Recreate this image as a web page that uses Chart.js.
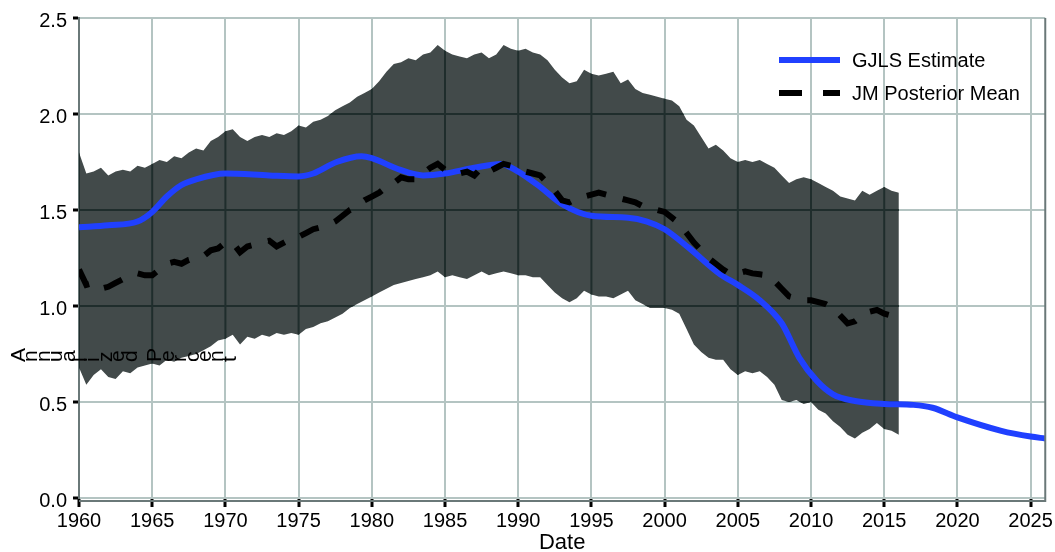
<!DOCTYPE html>
<html>
<head>
<meta charset="utf-8">
<script src="https://cdn.jsdelivr.net/npm/chart.js@4.4.1/dist/chart.umd.min.js"></script>
<style>
  html, body { margin: 0; padding: 0; background: #fff; }
  #chart { display: block; }
</style>
</head>
<body>
<canvas id="chart" width="1055" height="552"></canvas>
<script>
const yearTicks = [1960, 1965, 1970, 1975, 1980, 1985, 1990, 1995, 2000, 2005, 2010, 2015, 2020, 2025];
const valueTicks = [0, 0.5, 1, 1.5, 2, 2.5];

// half-year grid shared by the band and the JM mean
const bandYears = [
  1960, 1960.5, 1961, 1961.5, 1962, 1962.5, 1963, 1963.5, 1964, 1964.5,
  1965, 1965.5, 1966, 1966.5, 1967, 1967.5, 1968, 1968.5, 1969, 1969.5,
  1970, 1970.5, 1971, 1971.5, 1972, 1972.5, 1973, 1973.5, 1974, 1974.5,
  1975, 1975.5, 1976, 1976.5, 1977, 1977.5, 1978, 1978.5, 1979, 1979.5,
  1980, 1980.5, 1981, 1981.5, 1982, 1982.5, 1983, 1983.5, 1984, 1984.5,
  1985, 1985.5, 1986, 1986.5, 1987, 1987.5, 1988, 1988.5, 1989, 1989.5,
  1990, 1990.5, 1991, 1991.5, 1992, 1992.5, 1993, 1993.5, 1994, 1994.5,
  1995, 1995.5, 1996, 1996.5, 1997, 1997.5, 1998, 1998.5, 1999, 1999.5,
  2000, 2000.5, 2001, 2001.5, 2002, 2002.5, 2003, 2003.5, 2004, 2004.5,
  2005, 2005.5, 2006, 2006.5, 2007, 2007.5, 2008, 2008.5, 2009, 2009.5,
  2010, 2010.5, 2011, 2011.5, 2012, 2012.5, 2013, 2013.5, 2014, 2014.5,
  2015, 2015.5, 2016
];
const bandUpper = [
  1.80, 1.69, 1.70, 1.72, 1.68, 1.70, 1.71, 1.70, 1.73, 1.72,
  1.74, 1.76, 1.75, 1.78, 1.77, 1.80, 1.82, 1.81, 1.86, 1.88,
  1.91, 1.92, 1.88, 1.86, 1.88, 1.89, 1.88, 1.90, 1.89, 1.91,
  1.94, 1.93, 1.96, 1.97, 1.99, 2.02, 2.04, 2.06, 2.09, 2.11,
  2.13, 2.17, 2.22, 2.26, 2.27, 2.29, 2.28, 2.31, 2.32, 2.36,
  2.33, 2.31, 2.30, 2.29, 2.31, 2.32, 2.29, 2.31, 2.36, 2.34,
  2.33, 2.34, 2.32, 2.31, 2.28, 2.23, 2.19, 2.16, 2.17, 2.23,
  2.21, 2.20, 2.21, 2.22, 2.16, 2.18, 2.13, 2.11, 2.10, 2.09,
  2.08, 2.07, 2.04, 1.97, 1.94, 1.88, 1.82, 1.84, 1.81, 1.77,
  1.75, 1.76, 1.75, 1.76, 1.74, 1.72, 1.68, 1.64, 1.66, 1.67,
  1.66, 1.64, 1.62, 1.60, 1.57, 1.56, 1.55, 1.60, 1.58, 1.60,
  1.62, 1.60, 1.59
];
const bandLower = [
  0.68, 0.59, 0.64, 0.67, 0.63, 0.62, 0.66, 0.65, 0.68, 0.69,
  0.70, 0.69, 0.72, 0.71, 0.73, 0.74, 0.75, 0.77, 0.79, 0.82,
  0.83, 0.85, 0.80, 0.84, 0.83, 0.85, 0.84, 0.86, 0.85, 0.86,
  0.85, 0.88, 0.89, 0.91, 0.92, 0.94, 0.96, 0.99, 1.01, 1.03,
  1.05, 1.07, 1.09, 1.11, 1.12, 1.13, 1.14, 1.15, 1.16, 1.18,
  1.15, 1.16, 1.15, 1.14, 1.16, 1.18, 1.16, 1.17, 1.18, 1.17,
  1.16, 1.16, 1.15, 1.15, 1.11, 1.07, 1.04, 1.02, 1.04, 1.08,
  1.06, 1.05, 1.05, 1.04, 1.06, 1.08, 1.03, 1.01, 0.99, 0.99,
  0.99, 0.98, 0.96, 0.88, 0.80, 0.76, 0.73, 0.72, 0.72, 0.67,
  0.64, 0.66, 0.65, 0.66, 0.63, 0.59, 0.51, 0.50, 0.51, 0.49,
  0.50, 0.46, 0.44, 0.40, 0.37, 0.33, 0.31, 0.34, 0.36, 0.39,
  0.36, 0.35, 0.33
];
const jmMean = [
  1.19, 1.11, 1.12, 1.09, 1.10, 1.12, 1.14, 1.16, 1.17, 1.16,
  1.16, 1.19, 1.22, 1.23, 1.22, 1.24, 1.25, 1.26, 1.29, 1.30,
  1.33, 1.33, 1.28, 1.31, 1.32, 1.33, 1.34, 1.31, 1.33, 1.35,
  1.36, 1.38, 1.40, 1.41, 1.42, 1.44, 1.47, 1.50, 1.52, 1.55,
  1.57, 1.59, 1.62, 1.64, 1.67, 1.66, 1.66, 1.69, 1.72, 1.74,
  1.71, 1.70, 1.69, 1.70, 1.68, 1.72, 1.70, 1.72, 1.74, 1.73,
  1.71, 1.70, 1.69, 1.68, 1.64, 1.60, 1.55, 1.54, 1.56, 1.57,
  1.58, 1.59, 1.58, 1.57, 1.56, 1.55, 1.54, 1.52, 1.51, 1.50,
  1.49, 1.46, 1.43, 1.38, 1.33, 1.29, 1.25, 1.22, 1.19, 1.165,
  1.17, 1.18, 1.17, 1.165, 1.16, 1.13, 1.09, 1.05, 1.04, 1.03,
  1.03, 1.02, 1.01, 0.99, 0.95, 0.91, 0.92, 0.95, 0.97, 0.98,
  0.96, 0.95, 0.94
];

const gjlsYears = [
  1960, 1962, 1964, 1965, 1966, 1967, 1968, 1970, 1973, 1975,
  1976, 1977.6, 1979.3, 1980, 1981.9, 1983.5, 1985, 1987, 1988.8, 1990,
  1991.5, 1993, 1995, 1997.5, 1998.8, 2000, 2001.7, 2003.8, 2005, 2006.5,
  2008, 2009.2, 2010.4, 2011.5, 2013, 2015, 2017, 2018.3, 2020, 2023,
  2025, 2026
];
const gjlsValues = [
  1.41, 1.42, 1.44, 1.49, 1.57, 1.63, 1.66, 1.69, 1.68, 1.675,
  1.69, 1.75, 1.78, 1.77, 1.71, 1.68, 1.69, 1.72, 1.74, 1.70,
  1.62, 1.53, 1.47, 1.46, 1.44, 1.40, 1.30, 1.165, 1.11, 1.03,
  0.91, 0.73, 0.61, 0.54, 0.505, 0.49, 0.485, 0.47, 0.42, 0.35,
  0.32, 0.31
];

const xTitle = 'Date';
const yTitle = 'Annualized Percent';
const legendLabels = ['GJLS Estimate', 'JM Posterior Mean'];

const FONT = "'Liberation Sans', Arial, sans-serif";
const BLUE = '#2040ff';
const BAND = '#424a4a';
const GRID = '#b4c4c2';
const GRID_IN_BAND = '#1f2d2c';
const AXIS = '#6a7878';

const toPoints = (xs, ys) => xs.map((x, i) => ({ x, y: ys[i] }));

// grid lines show dark through the band
const bandGrid = {
  id: 'bandGrid',
  afterDatasetDraw(chart, args) {
    if (args.index !== 0) return;
    const up = chart.getDatasetMeta(0).data;
    const lo = chart.getDatasetMeta(1).data;
    const { ctx, chartArea, scales } = chart;
    ctx.save();
    ctx.beginPath();
    up.forEach((p, i) => (i ? ctx.lineTo(p.x, p.y) : ctx.moveTo(p.x, p.y)));
    for (let i = lo.length - 1; i >= 0; i--) ctx.lineTo(lo[i].x, lo[i].y);
    ctx.closePath();
    ctx.clip();
    ctx.strokeStyle = GRID_IN_BAND;
    ctx.lineWidth = 2;
    ctx.beginPath();
    yearTicks.forEach(v => {
      const x = scales.x.getPixelForValue(v);
      ctx.moveTo(x, chartArea.top);
      ctx.lineTo(x, chartArea.bottom);
    });
    valueTicks.forEach(v => {
      const y = scales.y.getPixelForValue(v);
      ctx.moveTo(chartArea.left, y);
      ctx.lineTo(chartArea.right, y);
    });
    ctx.stroke();
    ctx.restore();
  }
};

const frameAndText = {
  id: 'frameAndText',
  afterDraw(chart) {
    const { ctx, chartArea } = chart;
    ctx.save();

    // bottom and right frame lines
    ctx.strokeStyle = AXIS;
    ctx.lineWidth = 2;
    ctx.beginPath();
    ctx.moveTo(chartArea.left, chartArea.bottom + 3);
    ctx.lineTo(chartArea.right + 1, chartArea.bottom + 3);
    ctx.moveTo(chartArea.right, chartArea.top);
    ctx.lineTo(chartArea.right, chartArea.bottom + 3);
    ctx.stroke();

    // legend
    const lx = 779, lw = 61;
    ctx.lineCap = 'butt';
    ctx.lineWidth = 6;
    ctx.strokeStyle = BLUE;
    ctx.beginPath();
    ctx.moveTo(lx, 60);
    ctx.lineTo(lx + lw, 60);
    ctx.stroke();
    ctx.strokeStyle = '#000';
    ctx.setLineDash([23, 21]);
    ctx.beginPath();
    ctx.moveTo(lx, 93);
    ctx.lineTo(lx + lw, 93);
    ctx.stroke();
    ctx.setLineDash([]);

    ctx.fillStyle = '#000';
    ctx.font = `20px ${FONT}`;
    ctx.textAlign = 'left';
    ctx.textBaseline = 'middle';
    ctx.fillText(legendLabels[0], 852, 61);
    ctx.fillText(legendLabels[1], 852, 94);

    // y title: glyphs turned one by one, laid out side by side
    ctx.font = `21px ${FONT}`;
    ctx.textBaseline = 'alphabetic';
    [...yTitle].forEach((ch, i) => {
      ctx.save();
      ctx.translate(25 + i * 12.4, 362);
      ctx.rotate(-Math.PI / 2);
      ctx.fillText(ch, 0, 0);
      ctx.restore();
    });

    ctx.restore();
  }
};

const tickFont = { family: FONT, size: 20 };

new Chart(document.getElementById('chart'), {
  type: 'line',
  data: {
    datasets: [
      {
        label: 'upper',
        data: toPoints(bandYears, bandUpper),
        fill: '+1',
        backgroundColor: BAND,
        borderColor: 'rgba(0,0,0,0)',
        borderWidth: 0,
        pointRadius: 0,
        tension: 0,
        order: 4
      },
      {
        label: 'lower',
        data: toPoints(bandYears, bandLower),
        fill: false,
        borderColor: 'rgba(0,0,0,0)',
        borderWidth: 0,
        pointRadius: 0,
        tension: 0,
        order: 3
      },
      {
        label: legendLabels[0],
        data: toPoints(gjlsYears, gjlsValues),
        fill: false,
        borderColor: BLUE,
        borderWidth: 6,
        pointRadius: 0,
        cubicInterpolationMode: 'monotone',
        order: 2
      },
      {
        label: legendLabels[1],
        data: toPoints(bandYears, jmMean),
        fill: false,
        borderColor: '#000',
        borderWidth: 6,
        borderDash: [20, 17],
        borderCapStyle: 'butt',
        pointRadius: 0,
        tension: 0,
        order: 1
      }
    ]
  },
  options: {
    responsive: false,
    animation: false,
    devicePixelRatio: 1,
    layout: { padding: { left: 0, right: 9, top: 17, bottom: 0 } },
    plugins: {
      legend: { display: false },
      tooltip: { enabled: false }
    },
    scales: {
      x: {
        type: 'linear',
        min: 1960,
        max: 2026,
        afterBuildTicks: s => { s.ticks = yearTicks.map(v => ({ value: v })); },
        afterFit: s => { s.height = 54; },
        grid: { color: GRID, lineWidth: 2, tickColor: '#000', tickWidth: 3, tickLength: 9 },
        border: { display: false },
        ticks: {
          color: '#000',
          font: tickFont,
          padding: 2,
          maxRotation: 0,
          autoSkip: false,
          callback: v => String(v)
        },
        title: {
          display: true,
          text: xTitle,
          color: '#000',
          font: { family: FONT, size: 22, lineHeight: 0.8 },
          padding: 0
        }
      },
      y: {
        type: 'linear',
        min: 0,
        max: 2.5,
        afterBuildTicks: s => { s.ticks = valueTicks.map(v => ({ value: v })); },
        afterFit: s => { s.width = 79; },
        grid: { color: GRID, lineWidth: 2, tickColor: '#000', tickWidth: 3, tickLength: 6 },
        border: { color: AXIS, width: 2 },
        ticks: {
          color: '#000',
          font: tickFont,
          padding: 6,
          labelOffset: 3,
          callback: v => v.toFixed(1)
        }
      }
    }
  },
  plugins: [bandGrid, frameAndText]
});
</script>
</body>
</html>
